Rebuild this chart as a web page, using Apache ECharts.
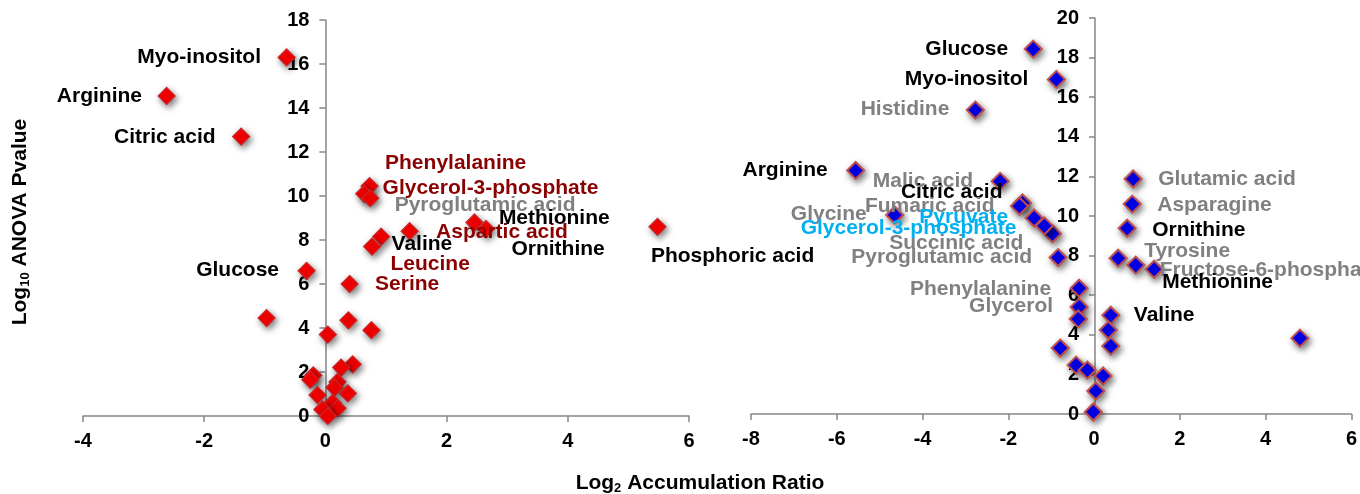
<!DOCTYPE html>
<html>
<head>
<meta charset="utf-8">
<script src="https://cdn.jsdelivr.net/npm/echarts@6/dist/echarts.min.js"></script>
<style>html,body{margin:0;padding:0;background:#fff;}#c{width:1360px;height:494px;}</style>
</head>
<body>
<div id="c"></div>
<script>
// ---------- DATA ----------
const xTicksLeft = [-4, -2, 0, 2, 4, 6];
const yTicksLeft = [0, 2, 4, 6, 8, 10, 12, 14, 16, 18];
const xTicksRight = [-8, -6, -4, -2, 0, 2, 4, 6];
const yTicksRight = [0, 2, 4, 6, 8, 10, 12, 14, 16, 18, 20];

const leftX = [-0.64, -2.62, -1.39, -0.31, -0.97, 0.73, 0.64, 0.74, 0.92, 0.77, 1.39, 2.46, 2.65, 5.48, 0.40,
               0.04, 0.38, 0.76, 0.45, 0.26, -0.20, -0.25, 0.20, 0.15, 0.37, -0.13, 0.12, 0.20, -0.05, 0.04];
const leftY = [16.3, 14.55, 12.7, 6.6, 4.45, 10.45, 10.1, 9.9, 8.15, 7.7, 8.4, 8.8, 8.5, 8.6, 6.0,
               3.7, 4.35, 3.9, 2.35, 2.2, 1.85, 1.65, 1.55, 1.3, 1.03, 0.95, 0.6, 0.35, 0.3, 0.0];
const leftNames = ['Myo-inositol', 'Arginine', 'Citric acid', 'Glucose', '', 'Phenylalanine', 'Glycerol-3-phosphate',
                   'Pyroglutamic acid', 'Valine', 'Leucine', 'Aspartic acid', 'Methionine', 'Ornithine', 'Phosphoric acid', 'Serine',
                   '', '', '', '', '', '', '', '', '', '', '', '', '', '', ''];

const rightX = [-1.42, -0.88, -2.77, -5.56, -2.19, -4.65, -1.67, -1.74, -1.40, -0.97, -1.16, -0.84, -0.35, -0.35, -0.37,
                0.91, 0.89, 0.77, 0.56, 0.97, 1.40, 0.39, 0.33, 0.39, 4.80, -0.79, -0.42, -0.16, 0.21, 0.04, -0.02];
const rightY = [18.43, 16.9, 15.35, 12.3, 11.75, 10.05, 10.66, 10.5, 9.9, 9.1, 9.5, 7.9, 6.35, 5.4, 4.8,
                11.87, 10.6, 9.38, 7.87, 7.52, 7.31, 4.99, 4.24, 3.43, 3.83, 3.33, 2.47, 2.22, 1.92, 1.16, 0.1];
const rightNames = ['Glucose', 'Myo-inositol', 'Histidine', 'Arginine', 'Malic acid', 'Glycine', 'Citric acid', 'Fumaric acid',
                    'Pyruvate', 'Glycerol-3-phosphate', 'Succinic acid', 'Pyroglutamic acid', 'Phenylalanine', 'Glycerol', '',
                    'Glutamic acid', 'Asparagine', 'Ornithine', 'Tyrosine', 'Fructose-6-phosphate', 'Methionine', 'Valine',
                    '', '', '', '', '', '', '', '', ''];

const xTitle = 'Log';
const xTitleSub = '2';
const xTitleRest = ' Accumulation Ratio';
const yTitle = 'Log';
const yTitleSub = '10';
const yTitleRest = ' ANOVA Pvalue';

// ---------- STYLE / LAYOUT ----------
const BLACK = '#000000', GRAY = '#808080', DRED = '#8B0000', LBLUE = '#00B0F0';
const labelColor = {
  'L:Phenylalanine': DRED, 'L:Glycerol-3-phosphate': DRED, 'L:Aspartic acid': DRED, 'L:Leucine': DRED, 'L:Serine': DRED,
  'L:Pyroglutamic acid': GRAY,
  'R:Histidine': GRAY, 'R:Malic acid': GRAY, 'R:Glycine': GRAY, 'R:Fumaric acid': GRAY, 'R:Succinic acid': GRAY,
  'R:Pyroglutamic acid': GRAY, 'R:Phenylalanine': GRAY, 'R:Glycerol': GRAY, 'R:Glutamic acid': GRAY,
  'R:Asparagine': GRAY, 'R:Tyrosine': GRAY, 'R:Fructose-6-phosphate': GRAY,
  'R:Pyruvate': LBLUE, 'R:Glycerol-3-phosphate': LBLUE
};
// [dx, dy, align] of label anchor relative to marker centre, in px
const labelPos = {
  'L:Myo-inositol': [-25, 0, 'right'], 'L:Arginine': [-24, 1, 'right'], 'L:Citric acid': [-25, 1, 'right'],
  'L:Glucose': [-27, 0, 'right'], 'L:Phenylalanine': [16, -22, 'left'], 'L:Glycerol-3-phosphate': [19, -5, 'left'],
  'L:Pyroglutamic acid': [25, 8, 'left'], 'L:Methionine': [25, -4, 'left'], 'L:Aspartic acid': [27, 2, 'left'],
  'L:Ornithine': [26, 21, 'left'], 'L:Valine': [11, 8, 'left'], 'L:Leucine': [19, 18, 'left'],
  'L:Serine': [26, 1, 'left'], 'L:Phosphoric acid': [-6, 30, 'left'],
  'R:Glucose': [-24, 1, 'right'], 'R:Myo-inositol': [-27, 1, 'right'], 'R:Histidine': [-25, 0, 'right'],
  'R:Arginine': [-27, 1, 'right'], 'R:Malic acid': [-26, 1, 'right'], 'R:Glycine': [-27, 0, 'right'],
  'R:Citric acid': [-19, -10, 'right'], 'R:Fumaric acid': [-24, 1, 'right'], 'R:Pyruvate': [-25, 0, 'right'],
  'R:Glycerol-3-phosphate': [-35, -5, 'right'], 'R:Succinic acid': [-20, 18, 'right'],
  'R:Pyroglutamic acid': [-25, 1, 'right'], 'R:Phenylalanine': [-27, 2, 'right'], 'R:Glycerol': [-25, 0, 'right'],
  'R:Glutamic acid': [26, 1, 'left'], 'R:Asparagine': [26, 2, 'left'], 'R:Ornithine': [26, 3, 'left'],
  'R:Tyrosine': [27, -6, 'left'], 'R:Fructose-6-phosphate': [25, 6, 'left'], 'R:Methionine': [9, 14, 'left'],
  'R:Valine': [24, 1, 'left']
};

const FONT = '"Liberation Sans", Arial, sans-serif';
const SYM = 17;
const AXCOL = '#868686';
const GRIDS = [
  { left: 83, top: 20, width: 606, height: 396 },
  { left: 751, top: 18, width: 602, height: 396 }
];

function buildData(xs, ys, names, side) {
  return xs.map(function (x, i) {
    const nm = names[i];
    const item = { value: [x, ys[i]], name: nm };
    if (nm) {
      const key = side + ':' + nm;
      const p = labelPos[key] || [24, 0, 'left'];
      item.label = {
        show: true,
        formatter: nm,
        position: [SYM / 2 + p[0], SYM / 2 + p[1]],
        align: p[2],
        verticalAlign: 'middle',
        color: labelColor[key] || BLACK,
        textBorderWidth: 0,
        textBorderColor: 'transparent',
        textShadowBlur: 0,
        fontFamily: FONT,
        fontWeight: 'bold',
        fontSize: 21
      };
    }
    return item;
  });
}

function xAxisCfg(gi, ticks) {
  return {
    gridIndex: gi, type: 'value', min: ticks[0], max: ticks[ticks.length - 1], interval: 2,
    splitLine: { show: false },
    axisLine: { show: true, onZero: false, lineStyle: { color: AXCOL, width: 1.5 } },
    axisTick: { show: true, inside: false, length: 6, lineStyle: { color: AXCOL, width: 1.5 } },
    axisLabel: { color: '#000', fontFamily: FONT, fontWeight: 'bold', fontSize: 20, margin: 15 }
  };
}
// the vertical axis crosses the horizontal one at x = 0
function yAxisCfg(gi, ticks, xticks) {
  const xmin = xticks[0], xmax = xticks[xticks.length - 1];
  const shift = (0 - xmin) / (xmax - xmin) * GRIDS[gi].width;
  return {
    gridIndex: gi, type: 'value', min: ticks[0], max: ticks[ticks.length - 1], interval: 2,
    position: 'left', offset: -shift,
    splitLine: { show: false },
    axisLine: { show: true, onZero: false, lineStyle: { color: AXCOL, width: 1.5 } },
    axisTick: { show: true, inside: false, length: 6, lineStyle: { color: AXCOL, width: 1.5 } },
    axisLabel: { color: '#000', fontFamily: FONT, fontWeight: 'bold', fontSize: 20, margin: 16 }
  };
}

const chart = echarts.init(document.getElementById('c'), null, { renderer: 'canvas' });
chart.setOption({
  backgroundColor: '#ffffff',
  animation: false,
  grid: GRIDS,
  xAxis: [xAxisCfg(0, xTicksLeft), xAxisCfg(1, xTicksRight)],
  yAxis: [yAxisCfg(0, yTicksLeft, xTicksLeft), yAxisCfg(1, yTicksRight, xTicksRight)],
  series: [
    {
      type: 'scatter', xAxisIndex: 0, yAxisIndex: 0, symbol: 'diamond', symbolSize: SYM,
      itemStyle: { color: '#FF0000', borderColor: '#C8282A', borderWidth: 1.2, opacity: 1,
        shadowBlur: 6, shadowColor: 'rgba(0,0,0,0.5)', shadowOffsetX: 2, shadowOffsetY: 3 },
      data: buildData(leftX, leftY, leftNames, 'L')
    },
    {
      type: 'scatter', xAxisIndex: 1, yAxisIndex: 1, symbol: 'diamond', symbolSize: SYM,
      itemStyle: { color: '#0000FF', borderColor: '#C0504D', borderWidth: 2, opacity: 1,
        shadowBlur: 6, shadowColor: 'rgba(0,0,0,0.5)', shadowOffsetX: 2, shadowOffsetY: 3 },
      data: buildData(rightX, rightY, rightNames, 'R')
    }
  ],
  graphic: [
    {
      type: 'text', x: 700, y: 483,
      style: {
        text: '{a|' + xTitle + '}{b|' + xTitleSub + '}{a|' + xTitleRest + '}',
        align: 'center', verticalAlign: 'middle',
        rich: {
          a: { fontFamily: FONT, fontWeight: 'bold', fontSize: 21, lineHeight: 24, fill: '#000' },
          b: { fontFamily: FONT, fontWeight: 'bold', fontSize: 13, lineHeight: 12, verticalAlign: 'bottom', fill: '#000' }
        }
      }
    },
    {
      type: 'text', x: 20, y: 222, rotation: Math.PI / 2,
      style: {
        text: '{a|' + yTitle + '}{b|' + yTitleSub + '}{a|' + yTitleRest + '}',
        align: 'center', verticalAlign: 'middle',
        rich: {
          a: { fontFamily: FONT, fontWeight: 'bold', fontSize: 21, lineHeight: 24, fill: '#000' },
          b: { fontFamily: FONT, fontWeight: 'bold', fontSize: 13, lineHeight: 12, verticalAlign: 'bottom', fill: '#000' }
        }
      }
    }
  ]
});
</script>
</body>
</html>
